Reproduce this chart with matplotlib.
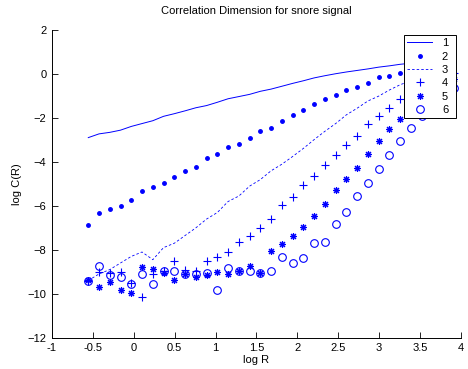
import numpy as np
import matplotlib
matplotlib.use("Agg")
import matplotlib.pyplot as plt

plt.rcParams['font.family'] = ['Liberation Sans', 'DejaVu Sans']

# log R values (35 points, evenly spaced)
log_r = [-0.556, -0.425, -0.293, -0.162, -0.030, 0.101, 0.233, 0.364, 0.496, 0.627,
         0.759, 0.890, 1.022, 1.153, 1.285, 1.416, 1.548, 1.679, 1.811, 1.942,
         2.074, 2.205, 2.337, 2.468, 2.600, 2.731, 2.863, 2.994, 3.126, 3.257,
         3.389, 3.520, 3.652, 3.783, 3.915]

# log C(R) for embedding dimensions 1..6
dim1 = [-2.89, -2.72, -2.65, -2.55, -2.38, -2.25, -2.12, -1.92, -1.80, -1.67,
        -1.53, -1.43, -1.28, -1.12, -1.02, -0.92, -0.78, -0.68, -0.55, -0.42,
        -0.30, -0.17, -0.07, 0.02, 0.10, 0.17, 0.24, 0.32, 0.38, 0.45,
        0.50, 0.55, 0.60, 0.62, 0.65]
dim2 = [-6.86, -6.33, -6.13, -6.01, -5.72, -5.34, -5.14, -4.96, -4.68, -4.39,
        -4.23, -3.82, -3.65, -3.32, -3.16, -2.90, -2.58, -2.45, -2.13, -1.85,
        -1.61, -1.35, -1.15, -0.94, -0.73, -0.58, -0.38, -0.15, -0.07, 0.06,
        0.20, 0.30, 0.40, 0.48, 0.55]
dim3 = [-9.40, -9.10, -8.90, -8.60, -8.30, -8.10, -8.45, -7.90, -7.70, -7.35,
        -7.00, -6.60, -6.30, -5.80, -5.55, -5.10, -4.80, -4.40, -4.10, -3.75,
        -3.38, -2.98, -2.60, -2.25, -1.85, -1.55, -1.22, -1.00, -0.72, -0.48,
        -0.30, -0.15, -0.05, 0.02, 0.05]
dim4 = [-9.40, -9.02, -9.05, -9.00, -9.52, -10.15, -9.08, -8.95, -8.50, -8.90,
        -8.95, -8.52, -8.31, -8.08, -7.63, -7.39, -7.01, -6.58, -5.95, -5.60,
        -5.03, -4.65, -4.15, -3.67, -3.22, -2.81, -2.25, -1.90, -1.52, -1.12,
        -0.85, -0.60, -0.40, -0.20, 0.05]
dim5 = [-9.37, -9.68, -9.47, -9.83, -9.98, -8.80, -8.87, -9.06, -9.37, -9.10,
        -9.25, -9.14, -9.02, -9.10, -8.98, -8.72, -9.05, -8.07, -7.72, -7.38,
        -6.94, -6.44, -5.90, -5.28, -4.76, -4.26, -3.62, -3.05, -2.52, -2.06,
        -1.65, -1.30, -0.95, -0.60, -0.20]
dim6 = [-9.40, -8.72, -9.15, -9.26, -9.55, -9.10, -9.55, -8.95, -8.95, -9.10,
        -9.10, -9.05, -9.83, -8.82, -8.95, -8.98, -9.07, -8.95, -8.34, -8.61,
        -8.37, -7.68, -7.63, -6.84, -6.28, -5.57, -4.95, -4.34, -3.66, -3.05,
        -2.45, -1.90, -1.45, -1.05, -0.65]

fig = plt.figure(figsize=(4.68, 3.69), dpi=100)
ax = fig.add_axes([0.111, 0.085, 0.874, 0.833])

ax.plot(log_r, dim1, '-', color='b', lw=0.7, label='1')
ax.plot(log_r, dim2, '.', color='b', ms=5, label='2')
ax.plot(log_r, dim3, '--', color='b', lw=0.6, dashes=(3, 2.5), label='3')
ax.plot(log_r, dim4, '+', color='b', ms=6, mew=0.8, label='4')
ax.plot(log_r, dim5, marker=(8, 2, 0), ls='none', color='b', ms=5, mew=0.8, label='5')
ax.plot(log_r, dim6, 'o', color='b', mfc='none', ms=5.5, mew=0.8, label='6')

ax.set_xlim(-1, 4)
ax.set_ylim(-12, 2)
ax.set_xticks(np.arange(-1, 4.01, 0.5))
ax.set_xticklabels(['-1', '-0.5', '0', '0.5', '1', '1.5', '2', '2.5', '3', '3.5', '4'])
ax.set_yticks(np.arange(-12, 2.01, 2))

ax.spines['top'].set_visible(False)
ax.spines['right'].set_visible(False)
ax.spines['left'].set_linewidth(0.7)
ax.spines['bottom'].set_linewidth(0.7)
ax.tick_params(direction='in', length=4, width=0.6, labelsize=8, pad=4)

ax.set_title('Correlation Dimension for snore signal', fontsize=8, pad=12)
ax.set_xlabel('log R', fontsize=8, labelpad=1)
ax.set_ylabel('log C(R)', fontsize=8, labelpad=4)

leg = ax.legend(loc='upper left', bbox_to_anchor=(0.861, 0.689, 0.127, 0.296),
                mode='expand', fontsize=8, handlelength=2.2, handletextpad=0.9,
                borderaxespad=0, borderpad=0.3, labelspacing=0.3,
                fancybox=False, framealpha=1, edgecolor='k')
leg.get_frame().set_linewidth(0.7)

fig.savefig('out.png', dpi=100)
